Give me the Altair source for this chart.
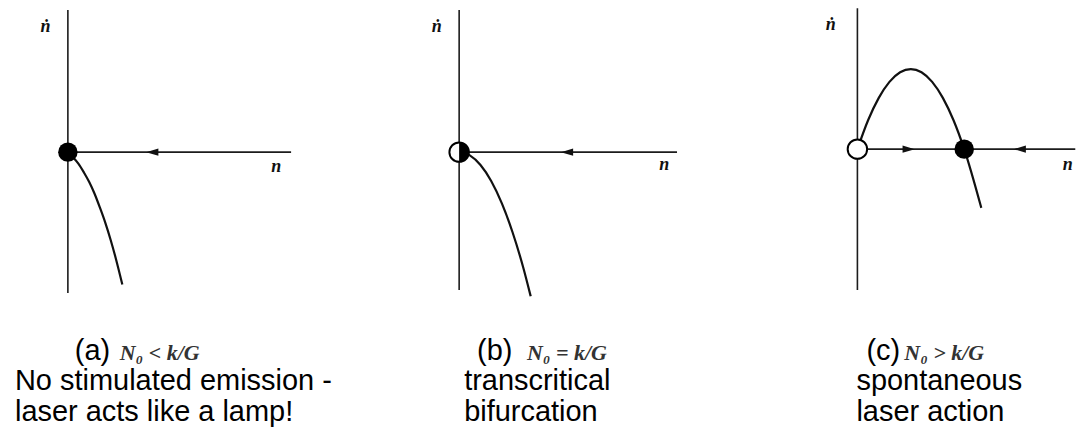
import altair as alt
import pandas as pd

PX = 107.0      # pixels per unit on both axes of every panel
HEIGHT = 439

SANS = "Liberation Sans, Arial, Helvetica, sans-serif"
SERIF = "Liberation Serif, DejaVu Serif, Times New Roman, serif"

# ---- curves ṅ(n) for the three pump regimes ----
A_N    = [0.0, 0.05, 0.10, 0.15, 0.20, 0.25, 0.30, 0.35, 0.40, 0.45, 0.51]
A_NDOT = [0.0, -0.05, -0.11, -0.19, -0.28, -0.39, -0.52, -0.66, -0.82, -1.00, -1.24]

B_N    = [0.0, 0.10, 0.20, 0.30, 0.40, 0.50, 0.60, 0.67]
B_NDOT = [0.0, -0.03, -0.12, -0.27, -0.48, -0.75, -1.08, -1.35]

C_N    = [0.0, 0.10, 0.20, 0.30, 0.40, 0.50, 0.60, 0.70, 0.80, 0.90, 1.00, 1.16]
C_NDOT = [0.0, 0.27, 0.48, 0.63, 0.72, 0.75, 0.72, 0.63, 0.48, 0.27, 0.0, -0.55]

# ---- fixed points on the n axis ----
A_FIXED_N, A_FIXED_KIND = [0.0], ["stable"]
B_FIXED_N, B_FIXED_KIND = [0.0], ["half"]
C_FIXED_N, C_FIXED_KIND = [0.0, 1.0], ["unstable", "stable"]

# ---- flow direction arrows along the n axis ----
A_ARROW_N, A_ARROW_DIR = [0.79], ["left"]
B_ARROW_N, B_ARROW_DIR = [1.01], ["left"]
C_ARROW_N, C_ARROW_DIR = [0.48, 1.52], ["right", "left"]

# ---- caption text ----
TAGS  = ["(a)", "(b)", "(c)"]
CONDS = ["N\u2080 < k/G", "N\u2080 = k/G", "N\u2080 > k/G"]
LINE1 = ["No stimulated emission -", "transcritical", "spontaneous"]
LINE2 = ["laser acts like a lamp!", "bifurcation", "laser action"]

# ---- panel geometry (pixels) ----
LAYOUTS = [
    dict(width=380, ox=68, oy=152, n_max=2.09, ndot_min=-1.32, ndot_max=1.33,
         ylab=(-0.21, 1.17), xlab=(1.95, -0.14),
         tag=(75, 360), cond=(120, 360), l1=(15, 390), l2=(15, 421)),
    dict(width=420, ox=80, oy=152, n_max=2.04, ndot_min=-1.29, ndot_max=1.33,
         ylab=(-0.21, 1.17), xlab=(1.92, -0.12),
         tag=(98, 360), cond=(148, 360), l1=(85, 390), l2=(85, 421)),
    dict(width=277, ox=59, oy=149, n_max=2.04, ndot_min=-1.32, ndot_max=1.32,
         ylab=(-0.25, 1.16), xlab=(1.97, -0.15),
         tag=(68, 360), cond=(106, 360), l1=(58, 390), l2=(58, 421)),
]

ARROW_LEFT = "M-1,0L1,-0.6L1,0.6Z"
ARROW_RIGHT = "M1,0L-1,-0.6L-1,0.6Z"
HALF_DISC = "M0,-1A1,1,0,0,1,0,1Z"
DOT_SIZE = 380
INK = "#111111"


def panel(i, curve_n, curve_ndot, fixed_n, fixed_kind, arrow_n, arrow_dir):
    lay = LAYOUTS[i]
    W, ox, oy = lay["width"], lay["ox"], lay["oy"]
    xs = alt.Scale(domain=[-ox / PX, (W - ox) / PX], nice=False, zero=False)
    ys = alt.Scale(domain=[-(HEIGHT - oy) / PX, oy / PX], nice=False, zero=False)

    def X(f):
        return alt.X(f"{f}:Q", scale=xs, axis=None)

    def Y(f):
        return alt.Y(f"{f}:Q", scale=ys, axis=None)

    axes_df = pd.DataFrame({
        "x": [0.0, 0.0], "x2": [0.0, lay["n_max"]],
        "y": [lay["ndot_min"], 0.0], "y2": [lay["ndot_max"], 0.0],
    })
    axes = alt.Chart(axes_df).mark_rule(color="#1c1c1c", strokeWidth=1.6).encode(
        x=X("x"), x2="x2", y=Y("y"), y2="y2")

    curve = alt.Chart(pd.DataFrame({"n": curve_n, "ndot": curve_ndot})).mark_line(
        color=INK, strokeWidth=2.2, interpolate="monotone").encode(
        x=X("n"), y=Y("ndot"))

    arrows = alt.Chart(pd.DataFrame({"n": arrow_n, "ndot": [0.0] * len(arrow_n),
                                     "dir": arrow_dir})).mark_point(
        filled=True, color=INK, size=150, opacity=1).encode(
        x=X("n"), y=Y("ndot"),
        shape=alt.Shape("dir:N", scale=alt.Scale(domain=["left", "right"],
                                                  range=[ARROW_LEFT, ARROW_RIGHT]),
                        legend=None))

    fp = alt.Chart(pd.DataFrame({"n": fixed_n, "ndot": [0.0] * len(fixed_n),
                                 "kind": fixed_kind}))
    solid = fp.transform_filter(alt.datum.kind == "stable").mark_point(
        shape="circle", filled=True, color="black", size=DOT_SIZE, opacity=1).encode(
        x=X("n"), y=Y("ndot"))
    hollow = fp.transform_filter(
        (alt.datum.kind == "unstable") | (alt.datum.kind == "half")).mark_point(
        shape="circle", filled=True, fill="white", stroke="black", strokeWidth=2,
        fillOpacity=1, strokeOpacity=1, size=DOT_SIZE).encode(
        x=X("n"), y=Y("ndot"))
    half = fp.transform_filter(alt.datum.kind == "half").mark_point(
        shape=HALF_DISC, filled=True, color="black", size=DOT_SIZE, opacity=1).encode(
        x=X("n"), y=Y("ndot"))

    ylab = alt.Chart(pd.DataFrame({"n": [lay["ylab"][0]], "ndot": [lay["ylab"][1]],
                                   "t": ["\u1e45"]})).mark_text(
        font=SERIF, fontStyle="italic", fontWeight="bold", fontSize=18,
        color=INK).encode(x=X("n"), y=Y("ndot"), text="t:N")
    xlab = alt.Chart(pd.DataFrame({"n": [lay["xlab"][0]], "ndot": [lay["xlab"][1]],
                                   "t": ["n"]})).mark_text(
        font=SERIF, fontStyle="italic", fontWeight="bold", fontSize=18,
        color=INK).encode(x=X("n"), y=Y("ndot"), text="t:N")

    def caption(text, pos, **style):
        return alt.Chart(pd.DataFrame({"t": [text]})).mark_text(
            align="left", baseline="alphabetic", **style).encode(
            x=alt.value(pos[0]), y=alt.value(pos[1]), text="t:N")

    tag = caption(TAGS[i], lay["tag"], font=SANS, fontSize=29, color="black")
    cond = caption(CONDS[i], lay["cond"], font=SERIF, fontStyle="italic",
                   fontWeight="bold", fontSize=22, color="#333333")
    l1 = caption(LINE1[i], lay["l1"], font=SANS, fontSize=29, color="black")
    l2 = caption(LINE2[i], lay["l2"], font=SANS, fontSize=29, color="black")

    return alt.layer(axes, curve, arrows, hollow, half, solid, ylab, xlab,
                     tag, cond, l1, l2).properties(width=W, height=HEIGHT)


chart = alt.hconcat(
    panel(0, A_N, A_NDOT, A_FIXED_N, A_FIXED_KIND, A_ARROW_N, A_ARROW_DIR),
    panel(1, B_N, B_NDOT, B_FIXED_N, B_FIXED_KIND, B_ARROW_N, B_ARROW_DIR),
    panel(2, C_N, C_NDOT, C_FIXED_N, C_FIXED_KIND, C_ARROW_N, C_ARROW_DIR),
    spacing=0,
).properties(padding=0, background="white").configure_view(stroke=None, strokeWidth=0)

chart.save("out.html", embed_options={"renderer": "svg", "actions": False})
